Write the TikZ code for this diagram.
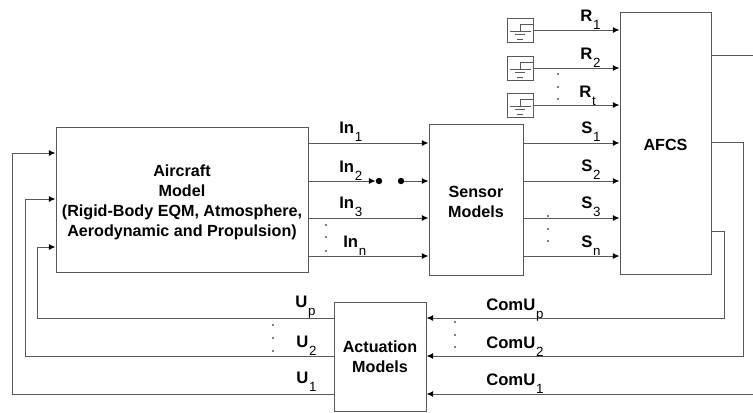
\documentclass[tikz,border=0pt]{standalone}
\usepackage{fontspec}
\setmainfont{Liberation Sans}
\usetikzlibrary{arrows.meta}
\definecolor{ln}{gray}{0.35}
\tikzset{
  x=0.75pt,y=-0.75pt,
  blockbox/.style={draw=ln,line width=0.75pt,fill=white,inner sep=0pt,align=center,font=\fontsize{12.1}{15}\selectfont\bfseries},
  wire/.style={draw=ln,line width=0.75pt},
  sig/.style={wire,-{Latex[length=5pt,width=4.5pt,black]}},
  lab/.style={inner sep=0pt,anchor=base west,font=\fontsize{12.5}{14}\selectfont\bfseries},
  vd/.style={circle,fill=black,inner sep=0pt,minimum size=1.2pt},
  bd/.style={circle,fill=black,inner sep=0pt,minimum size=4.8pt},
  src/.style={draw=ln,line width=0.6pt,minimum width=19.5pt,minimum height=18pt,inner sep=0pt}
}
\newcommand{\lbl}[4]{\node[lab] (#1) at (#2) {#3\kern0.6pt\raisebox{-6pt}{\fontsize{10}{10}\selectfont\mdseries #4}};}
\newcommand{\srcicon}[2]{%
  \node[src] (#1) at (520,#2) {};
  \draw[ln,line width=0.5pt] (510,#2+1) -- (531,#2+1)
    (520,#2+1) -- (520,#2-6) -- (533,#2-6)
    (515,#2+4) -- (525,#2+4) (517,#2+9) -- (523,#2+9);
}
\begin{document}
\begin{tikzpicture}
\useasboundingbox (0,0) rectangle (753,412);
\node[blockbox,minimum width=189pt,minimum height=108.75pt] (ac) at (182,199.5) {\rule{0pt}{13.5pt}Aircraft\\Model\\(Rigid-Body EQM, Atmosphere,\\Aerodynamic and Propulsion)};
\node[blockbox,minimum width=70.5pt,minimum height=113.25pt] (sm) at (476,199.5) {\rule{0pt}{12pt}Sensor\\Models};
\node[blockbox,minimum width=68.25pt,minimum height=196.5pt] (af) at (665.5,143) {\rule{0pt}{12pt}AFCS};
\node[blockbox,minimum width=69pt,minimum height=81.75pt] (am) at (380,356.5) {Actuation\\Models};
% source blocks
\srcicon{s1}{30}
\srcicon{s2}{68}
\srcicon{s3}{105}
\draw[sig] (s1.east) -- (s1.east -| af.west);
\draw[sig] (s2.east) -- (s2.east -| af.west);
\draw[sig] (s3.east) -- (s3.east -| af.west);
% aircraft to sensor
\coordinate (i1) at (ac.east |- 0,143);
\coordinate (i2) at (ac.east |- 0,181);
\coordinate (i3) at (ac.east |- 0,218);
\coordinate (i4) at (ac.east |- 0,256);
\draw[sig] (i1) -- (i1 -| sm.west);
\draw[sig] (i3) -- (i3 -| sm.west);
\draw[sig] (i4) -- (i4 -| sm.west);
\node[bd] (d1) at (379,181) {};
\node[bd] (d2) at (401,181) {};
\draw[sig] (i2) -- (d1);
\draw[sig] (d2) -- (d2 -| sm.west);
% sensor to afcs
\foreach \n/\y in {a/143,b/181,c/218,d/256}{
  \coordinate (o\n) at (sm.east |- 0,\y);
  \draw[sig] (o\n) -- (o\n -| af.west);
}
% afcs outputs
\coordinate (e0) at (753,55);
\draw[wire] (af.east |- e0) -- (e0);
\coordinate (c1) at (af.east |- 0,142);
\coordinate (c2) at (af.east |- 0,231);
\coordinate (e1) at (753,394);
\draw[sig] (c2) -- (724,231) -- (724,318) -- (am.east |- 0,318);
\draw[sig] (c1) -- (743,142) -- (743,356) -- (am.east |- 0,356);
\draw[sig] (e1) -- (am.east |- e1);
% feedback
\draw[sig] (am.west |- 0,318) -- (37,318) -- (37,247) -- (ac.west |- 0,247);
\draw[sig] (am.west |- 0,356) -- (25,356) -- (25,199) -- (ac.west |- 0,199);
\draw[sig] (am.west |- 0,394) -- (12,394) -- (12,153) -- (ac.west |- 0,153);
% labels
\lbl{lr1}{580,21}{R}{1}
\lbl{lr2}{580,59}{R}{2}
\lbl{lrt}{579,97}{R}{t}
\lbl{ls1}{581,133}{S}{1}
\lbl{ls2}{581,171}{S}{2}
\lbl{ls3}{581,208}{S}{3}
\lbl{lsn}{581,247}{S}{n}
\lbl{li1}{339,133}{In}{1}
\lbl{li2}{339,172}{In}{2}
\lbl{li3}{339,208}{In}{3}
\lbl{lin}{343,247}{In}{n}
\lbl{lup}{295,307}{U}{p}
\lbl{lu2}{296,347}{U}{2}
\lbl{lu1}{296,383}{U}{1}
\lbl{lcp}{486,310}{ComU}{p}
\lbl{lc2}{486,348}{ComU}{2}
\lbl{lc1}{486,385}{ComU}{1}
% ellipsis dots
\foreach \n/\x/\y in {a/558/74,b/558/87,c/558/99,e/326/225,f/326/237,g/326/251,h/548/216,i/548/229,j/548/241,k/273/325,l/273/338,m/273/351,o/455/322,p/455/335,q/455/347}{
  \node[vd] (v\n) at (\x,\y) {};
}
\end{tikzpicture}
\end{document}
